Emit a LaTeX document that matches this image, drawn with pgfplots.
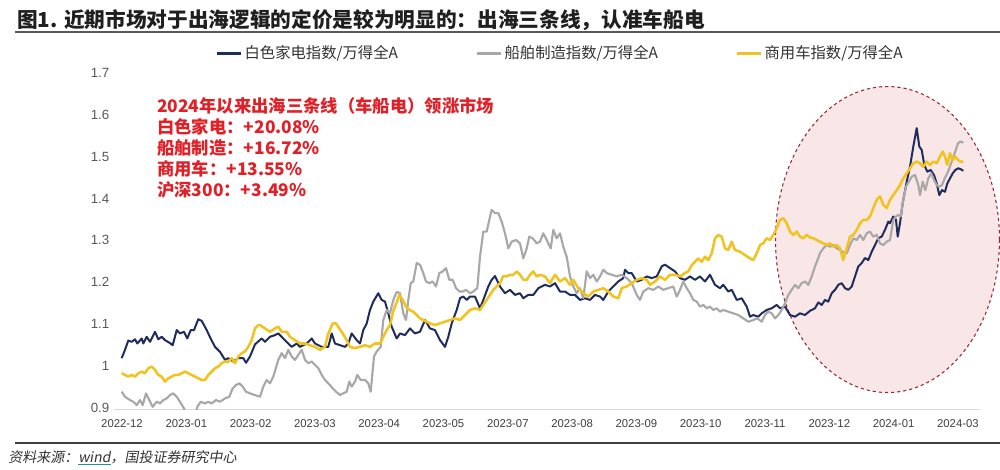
\documentclass[border=0pt]{standalone}
\usepackage{pgfplots}
\pgfplotsset{compat=1.18}
\usepackage{fontspec}
\setmainfont{Liberation Sans}
\newfontfamily\cjk{Noto Sans CJK SC}
\newfontfamily\cjkit[FakeSlant=0.18]{Noto Sans CJK SC}
\definecolor{navy}{RGB}{31,45,92}
\definecolor{lgray}{RGB}{168,168,168}
\definecolor{gold}{RGB}{240,195,30}
\definecolor{annred}{RGB}{226,30,38}
\definecolor{pinkfill}{RGB}{249,231,232}
\definecolor{ellborder}{RGB}{150,40,55}
\definecolor{ulteal}{RGB}{40,140,150}
\newcommand\tealul[1]{\setbox0\hbox{#1}\rlap{\color{ulteal}\rule[-1.8pt]{\wd0}{0.7pt}}\box0}
\begin{document}
\begin{tikzpicture}[x=1pt,y=1pt]
\path[use as bounding box, fill=white] (0,0) rectangle (750,351.75);
% title
\node[anchor=west, inner sep=0, text=black!88, font={\cjk\bfseries\fontsize{15.5}{18}\selectfont}] at (12.75,336.75) {图1. 近期市场对于出海逻辑的定价是较为明显的：出海三条线，认准车船电};
\draw[black!65, line width=1.5pt] (11.25,327.4) -- (750,327.4);
% highlight ellipse
\draw[ellborder, fill=pinkfill, line width=0.8pt, dash pattern=on 2.4pt off 2.2pt] (665.6,172.1) ellipse [x radius=84, y radius=114.75];
% annotation
\node[anchor=north west, inner sep=0, align=left, text=annred, font={\cjk\bfseries\fontsize{13}{15.75}\selectfont}] at (117.75,278.5) {2024年以来出海三条线（车船电）领涨市场\\ 白色家电：+20.08\%\\ 船舶制造：+16.72\%\\ 商用车：+13.55\%\\ 沪深300：+3.49\%};
% footer
\draw[black!75, line width=1.1pt] (11.25,19.5) -- (750,19.5);
\node[anchor=west, inner sep=0, text=black!80, font={\cjkit\fontsize{10.5}{12}\selectfont}] at (6,8.25) {资料来源：\tealul{wind}，国投证券研究中心};
\begin{axis}[
  at={(85.5pt,44.775pt)}, anchor=south west, scale only axis,
  width=649.5pt, height=251.475pt,
  xmin=-7, xmax=859, ymin=0.9, ymax=1.7,
  axis x line*=bottom, axis y line*=left,
  x axis line style={draw=black!15, line width=0.8pt, -},
  y axis line style={draw=none},
  tick style={draw=none},
  xtick={1,65.3,129.6,193.9,258.2,322.5,386.8,451.1,515.4,579.7,644,708.3,772.6,836.9},
  xticklabels={2022-12,2023-01,2023-02,2023-03,2023-04,2023-05,2023-07,2023-08,2023-09,2023-10,2023-11,2023-12,2024-01,2024-03},
  ytick={0.9,1,1.1,1.2,1.3,1.4,1.5,1.6,1.7},
  yticklabels={0.9,1,1.1,1.2,1.3,1.4,1.5,1.6,1.7},
  xticklabel style={font=\fontsize{8.5}{10}\selectfont, text=black!75, yshift=-4pt},
  yticklabel style={font=\fontsize{10}{12}\selectfont, text=black!65, yshift=1pt},
  clip=true,
  legend columns=3,
  legend style={at={(0.112,1.062)}, anchor=west, draw=none, fill=none,
    font=\cjk\fontsize{11.5}{13}\selectfont, text=black!80,
    /tikz/every even column/.append style={column sep=56pt}},
  legend image code/.code={\draw[#1, line width=2pt] (0pt,0pt) -- (18pt,0pt);},
  every axis plot/.append style={line join=round},
]
\addplot[navy, line width=1.5pt] coordinates {
(0.7,1.022)(4,1.042)(7.3,1.064)(10.7,1.061)(14,1.067)(16.3,1.057)(20.7,1.069)(22.3,1.057)(25.7,1.073)(29,1.061)
(34,1.085)(37.3,1.067)(40.7,1.073)(44,1.065)(48.3,1.059)(51.7,1.053)(55.7,1.089)(59,1.081)(63,1.085)(66.3,1.069)
(69.7,1.089)(73,1.089)(77.3,1.115)(80.7,1.111)(85.7,1.089)(89,1.072)(94,1.049)(99,1.037)(104,1.018)(107.3,1.022)
(112.3,1.014)(117.3,1.022)(122.3,1.022)(125,1.011)(129,1.026)(134,1.055)(140.7,1.069)(144,1.061)(149,1.073)(154,1.077)
(157.3,1.081)(162.3,1.069)(167.3,1.057)(170.7,1.049)(175.7,1.057)(179,1.049)(185.7,1.057)(190.7,1.069)(194,1.057)(200.7,1.049)
(207.3,1.049)(210.7,1.081)(214,1.057)(219,1.053)(224,1.049)(227.3,1.057)(230.7,1.081)(235.7,1.065)(239,1.057)(242.3,1.089)
(245.7,1.105)(249,1.137)(252.3,1.157)(257.3,1.177)(260.7,1.161)(264,1.157)(267.3,1.129)(270.7,1.097)(275.7,1.069)(279,1.081)
(284,1.077)(289,1.093)(294,1.081)(299,1.085)(304,1.113)(309,1.093)(314,1.089)(319,1.065)(324,1.049)(327.3,1.073)
(330.7,1.105)(335.7,1.137)(339,1.165)(342.3,1.169)(345.7,1.161)(349,1.169)(354,1.169)(359,1.141)(362.3,1.161)(367.3,1.193)
(370.7,1.209)(374,1.218)(379,1.193)(384,1.177)(389,1.185)(394,1.173)(399,1.177)(402.3,1.165)(407.3,1.173)(412.3,1.173)
(417.3,1.189)(424,1.197)(429,1.193)(434,1.201)(439,1.181)(444,1.181)(449,1.173)(454,1.173)(459,1.161)(464,1.165)
(469,1.161)(474,1.173)(479,1.169)(482.3,1.161)(487.3,1.181)(492.3,1.193)(497.3,1.205)(502.3,1.213)(504,1.233)(507.3,1.225)
(510.7,1.225)(515.7,1.205)(520.7,1.209)(525.7,1.217)(530.7,1.213)(535.7,1.217)(540.7,1.241)(544,1.245)(549,1.237)(554,1.229)
(559,1.213)(564,1.209)(569,1.217)(574,1.209)(579,1.217)(584,1.205)(589,1.221)(594,1.197)(599,1.189)(602.3,1.197)
(607.3,1.181)(610.7,1.185)(615.7,1.161)(620.7,1.165)(625.7,1.145)(629,1.121)(632.3,1.125)(637.3,1.121)(640.7,1.129)(645.7,1.137)
(650.7,1.141)(655.7,1.149)(659,1.141)(664,1.145)(669,1.125)(674,1.121)(679,1.129)(684,1.125)(689,1.135)(694,1.141)
(697.3,1.155)(700.7,1.149)(704,1.161)(707.3,1.157)(710.7,1.177)(714,1.185)(717.3,1.197)(720.7,1.201)(724,1.189)(727.3,1.185)
(730.7,1.193)(734,1.217)(737.3,1.241)(740.7,1.249)(744,1.261)(747.3,1.256)(750.7,1.276)(754,1.292)(757.3,1.308)(760.7,1.312)
(764,1.328)(767.3,1.348)(769,1.344)(772.3,1.360)(775,1.352)(776.7,1.312)(779,1.344)(781.7,1.392)(785.7,1.443)(789,1.479)
(792.3,1.527)(795.7,1.571)(798.3,1.527)(800.7,1.519)(803.3,1.483)(806.3,1.467)(809.7,1.471)(813,1.459)(815.7,1.439)(818.3,1.411)
(821,1.423)(824,1.419)(826.3,1.439)(829,1.451)(831.7,1.463)(834.3,1.471)(837.3,1.475)(839.7,1.473)(842.3,1.469)};
\addlegendentry{白色家电指数/万得全A}
\addplot[lgray, line width=1.6pt] coordinates {
(0.7,0.942)(4,0.930)(9,0.922)(12.3,0.918)(15.7,0.910)(19,0.922)(21.7,0.910)(25,0.938)(28.3,0.922)(31.7,0.906)
(35.7,0.918)(39,0.914)(42.3,0.922)(45.7,0.926)(49,0.934)(52.3,0.938)(55.7,0.930)(59,0.918)(63,0.902)(66,0.885)
(70,0.875)(74,0.885)(76.3,0.906)(79.7,0.918)(84,0.914)(87.3,0.918)(90.7,0.914)(95,0.922)(99,0.918)(104,0.926)
(108.3,0.930)(111.7,0.950)(115,0.958)(118.3,0.962)(121.7,0.954)(125,0.942)(129,0.938)(134,0.934)(139,0.930)(142.3,0.954)
(145.7,0.970)(149,0.962)(152.3,0.978)(157.3,1.018)(160.7,1.034)(164,1.022)(167.3,1.042)(170.7,1.026)(174,1.018)(177.3,1.030)
(180.7,1.042)(184,1.018)(187.3,1.010)(190.7,1.014)(194,1.006)(197.3,0.998)(200.7,0.982)(204,0.970)(207.3,0.962)(211.7,0.950)
(215,0.942)(219,0.934)(222.3,0.938)(225.7,0.942)(228.3,0.966)(230.7,0.954)(234,0.966)(236.3,0.982)(239.7,0.970)(244,0.970)
(247.3,0.962)(249.7,0.942)(253,1.026)(255.7,1.038)(259.7,1.049)(262.3,1.113)(265.7,1.137)(269,1.129)(272.3,1.161)(275.7,1.180)
(279,1.177)(282.3,1.129)(285,1.113)(287.3,1.161)(289.7,1.201)(292.3,1.205)(295.7,1.249)(299,1.245)(302.3,1.225)(305,1.205)
(308.3,1.201)(311.7,1.205)(315,1.193)(318.3,1.225)(321.7,1.229)(325,1.237)(328.3,1.209)(331.7,1.209)(335,1.189)(338.3,1.181)
(341.7,1.181)(345,1.185)(349,1.177)(352.3,1.181)(356.3,1.189)(359,1.264)(362.3,1.324)(365.7,1.324)(368.3,1.352)(370.7,1.376)
(374,1.368)(377.3,1.368)(380.7,1.348)(384,1.320)(387.3,1.284)(390.7,1.300)(395,1.304)(399,1.296)(402.3,1.260)(405.7,1.284)
(408.3,1.312)(411.7,1.308)(415.7,1.296)(419,1.300)(422.3,1.320)(425.7,1.304)(429.7,1.284)(432.3,1.328)(435.7,1.308)(439,1.320)
(442.3,1.288)(445.7,1.264)(449,1.217)(452.3,1.193)(455.7,1.177)(459,1.189)(462.3,1.165)(465.7,1.229)(469,1.213)(472.3,1.221)
(475.7,1.205)(479,1.217)(482.3,1.233)(485.7,1.225)(490.7,1.221)(495.7,1.217)(500.7,1.221)(505.7,1.213)(510.7,1.201)(515.7,1.173)
(519,1.161)(522.3,1.181)(527.3,1.189)(532.3,1.185)(537.3,1.193)(542.3,1.185)(547.3,1.189)(552.3,1.193)(555.7,1.169)(559,1.185)
(562.3,1.205)(565.7,1.189)(569,1.177)(572.3,1.161)(575.7,1.157)(579,1.145)(582.3,1.149)(585.7,1.141)(589,1.145)(592.3,1.137)
(595.7,1.141)(599,1.133)(602.3,1.137)(607.3,1.133)(612.3,1.129)(617.3,1.125)(622.3,1.117)(627.3,1.109)(632.3,1.113)(636.3,1.117)
(640.7,1.109)(644,1.125)(647.3,1.133)(650.7,1.129)(654,1.117)(657.3,1.125)(660.7,1.137)(664,1.153)(667.3,1.173)(670.7,1.185)
(674,1.197)(677.3,1.189)(680.7,1.201)(684,1.205)(687.3,1.197)(690.7,1.217)(694,1.241)(697.3,1.261)(699,1.273)(702.3,1.284)
(705.7,1.292)(709,1.288)(712.3,1.292)(715.7,1.284)(719,1.280)(722.3,1.275)(725.7,1.272)(729,1.292)(732.3,1.308)(735.7,1.304)
(739,1.316)(742.3,1.304)(745.7,1.320)(749,1.324)(752.3,1.312)(755.7,1.316)(759,1.296)(762.3,1.292)(765.7,1.300)(769,1.304)
(772.3,1.352)(775,1.360)(777.3,1.364)(779.7,1.360)(782.3,1.400)(785,1.431)(787.7,1.443)(790.7,1.455)(794,1.459)(797.3,1.435)
(799,1.411)(801.7,1.443)(804.3,1.423)(807.3,1.451)(810.3,1.463)(813,1.447)(815.7,1.435)(818.3,1.431)(821,1.435)(823.7,1.451)
(826.3,1.463)(829,1.479)(831.7,1.499)(834.3,1.515)(837,1.535)(839.7,1.539)(842.3,1.536)};
\addlegendentry{船舶制造指数/万得全A}
\addplot[gold, line width=1.9pt] coordinates {
(0.7,0.986)(4,0.982)(7.3,0.978)(10.7,0.982)(14,0.978)(17.3,0.986)(20.7,0.990)(24,0.986)(27.3,0.998)(30.7,1.002)
(34,0.994)(37.3,0.982)(40.7,0.978)(44,0.966)(47.3,0.974)(50.7,0.978)(54,0.982)(57.3,0.982)(60.7,0.986)(64,0.990)
(67.3,0.986)(70.7,0.982)(74,0.978)(77.3,0.974)(80.7,0.970)(84,0.970)(87.3,0.982)(90.7,0.990)(94,0.998)(97.3,1.002)
(100.7,1.010)(104,1.014)(107.3,1.014)(110.7,1.022)(114,1.010)(117.3,1.026)(120.7,1.034)(124,1.038)(127.3,1.049)(130.7,1.065)
(134,1.093)(137.3,1.101)(139,1.101)(144,1.093)(149,1.085)(154,1.093)(157.3,1.097)(160.7,1.085)(165.7,1.085)(169,1.073)
(174,1.065)(179,1.057)(184,1.057)(189,1.053)(194,1.049)(199,1.042)(204,1.049)(207.3,1.081)(211.7,1.105)(215,1.105)
(218.3,1.093)(221.7,1.081)(225.7,1.065)(229,1.049)(234,1.046)(239,1.049)(244,1.053)(249,1.049)(254,1.057)(259,1.057)
(262.3,1.073)(265.7,1.089)(269,1.101)(272.3,1.135)(275.7,1.155)(278.3,1.173)(281.7,1.161)(285,1.145)(288.3,1.137)(292.3,1.133)
(295.7,1.125)(299,1.117)(302.3,1.113)(305.7,1.109)(309,1.105)(314,1.101)(319,1.105)(324,1.109)(329,1.113)(334,1.117)
(339,1.113)(344,1.125)(349,1.137)(354,1.141)(359,1.137)(362.3,1.149)(365.7,1.161)(369,1.173)(372.3,1.185)(375.7,1.193)
(379,1.201)(382.3,1.218)(385.7,1.217)(389,1.221)(392.3,1.221)(395.7,1.229)(399,1.221)(402.3,1.209)(405.7,1.209)(409,1.221)
(412.3,1.229)(415.7,1.217)(419,1.221)(424,1.217)(429,1.201)(434,1.221)(439,1.205)(444,1.213)(449,1.197)(452.3,1.209)
(457.3,1.189)(462.3,1.177)(467.3,1.169)(472.3,1.181)(477.3,1.185)(482.3,1.189)(487.3,1.181)(492.3,1.169)(497.3,1.165)(500.7,1.189)
(505.7,1.193)(510.7,1.201)(515.7,1.209)(520.7,1.213)(525.7,1.209)(529,1.197)(534,1.205)(539,1.217)(544,1.209)(549,1.221)
(554,1.221)(559,1.217)(564,1.225)(567.3,1.229)(570.7,1.244)(574,1.252)(577.3,1.260)(580.7,1.252)(584,1.264)(587.3,1.256)
(590.7,1.272)(594,1.308)(597.3,1.316)(600.7,1.312)(604,1.284)(607.3,1.280)(610.7,1.300)(614,1.280)(619,1.276)(624,1.268)
(629,1.260)(632.3,1.256)(635.7,1.272)(639,1.292)(642.3,1.296)(645.7,1.308)(649,1.304)(652.3,1.316)(655.7,1.332)(659,1.352)
(662.3,1.356)(665.7,1.344)(669,1.324)(672.3,1.316)(675.7,1.324)(679,1.312)(682.3,1.308)(685.7,1.316)(689,1.310)(692.3,1.308)
(695.7,1.304)(699,1.300)(702.3,1.296)(705.7,1.292)(709,1.296)(712.3,1.288)(715.7,1.292)(719,1.284)(722.3,1.256)(725.7,1.284)
(729,1.312)(732.3,1.316)(735.7,1.328)(739,1.344)(742.3,1.352)(745.7,1.352)(749,1.360)(752.3,1.380)(755.7,1.400)(759,1.408)
(762.3,1.388)(765.7,1.380)(769,1.400)(772.3,1.411)(775.7,1.423)(779,1.435)(782.3,1.451)(785.7,1.463)(789,1.475)(792.3,1.487)
(795.7,1.491)(799,1.487)(802.3,1.479)(805.7,1.491)(809,1.483)(812.3,1.491)(815.7,1.487)(819,1.503)(821.7,1.515)(824,1.503)
(826.3,1.483)(829,1.511)(831.7,1.495)(834.3,1.503)(837,1.495)(839.7,1.491)(842.3,1.491)};
\addlegendentry{商用车指数/万得全A}
\end{axis}
\end{tikzpicture}
\end{document}
